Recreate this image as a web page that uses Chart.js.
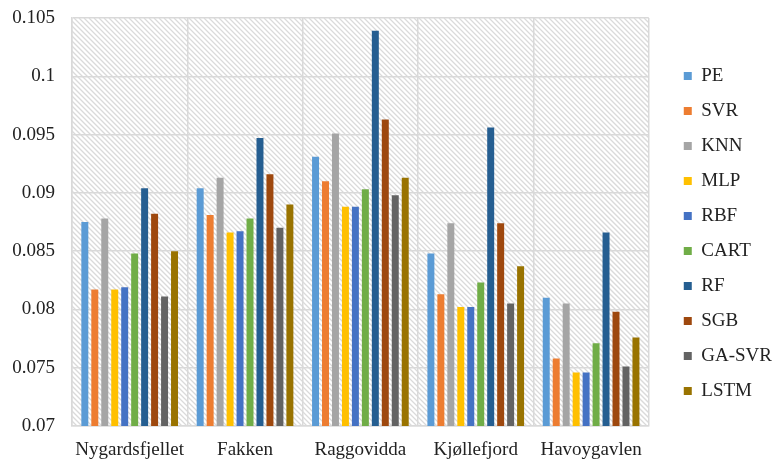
<!DOCTYPE html>
<html>
<head>
<meta charset="utf-8">
<script src="https://cdn.jsdelivr.net/npm/chart.js@4/dist/chart.umd.min.js"></script>
<style>
  html, body { margin: 0; padding: 0; background: #ffffff; }
  #wrap { width: 774px; height: 461px; }
</style>
</head>
<body>
<div id="wrap"><canvas id="c" width="774" height="461"></canvas></div>
<script>
// Wind farm sites
const sites = ['Nygardsfjellet', 'Fakken', 'Raggovidda', 'Kjøllefjord', 'Havoygavlen'];

// Error per model, one value per site
const PE     = [0.0875, 0.0904, 0.0931, 0.0848, 0.0810];
const SVR    = [0.0817, 0.0881, 0.0910, 0.0813, 0.0758];
const KNN    = [0.0878, 0.0913, 0.0951, 0.0874, 0.0805];
const MLP    = [0.0817, 0.0866, 0.0888, 0.0802, 0.0746];
const RBF    = [0.0819, 0.0867, 0.0888, 0.0802, 0.0746];
const CART   = [0.0848, 0.0878, 0.0903, 0.0823, 0.0771];
const RF     = [0.0904, 0.0947, 0.1039, 0.0956, 0.0866];
const SGB    = [0.0882, 0.0916, 0.0963, 0.0874, 0.0798];
const GA_SVR = [0.0811, 0.0870, 0.0898, 0.0805, 0.0751];
const LSTM   = [0.0850, 0.0890, 0.0913, 0.0837, 0.0776];

const modelNames = ['PE', 'SVR', 'KNN', 'MLP', 'RBF', 'CART', 'RF', 'SGB', 'GA-SVR', 'LSTM'];
const modelValues = [PE, SVR, KNN, MLP, RBF, CART, RF, SGB, GA_SVR, LSTM];
const modelColors = ['#5B9BD5', '#ED7D31', '#A5A5A5', '#FFC000', '#4472C4',
                     '#70AD47', '#255E91', '#9E480E', '#636363', '#997300'];

// Y axis ticks
const yTicks = [0.07, 0.075, 0.08, 0.085, 0.09, 0.095, 0.1, 0.105];
const yTickLabels = ['0.07', '0.075', '0.08', '0.085', '0.09', '0.095', '0.1', '0.105'];

const FONT = { family: "'Liberation Serif', 'Times New Roman', serif", size: 19 };
const GRID = '#d9d9d9';

// Diagonal hatch behind the plot area
const hatchPlugin = {
  id: 'hatch',
  beforeDraw(chart) {
    const { ctx, chartArea: a } = chart;
    ctx.save();
    ctx.fillStyle = '#ffffff';
    ctx.fillRect(0, 0, chart.width, chart.height);
    ctx.beginPath();
    ctx.rect(a.left, a.top, a.right - a.left, a.bottom - a.top);
    ctx.clip();
    ctx.strokeStyle = '#dadada';
    ctx.lineWidth = 1.3;
    const h = a.bottom - a.top;
    ctx.beginPath();
    for (let k = -h; k < a.right - a.left + 5; k += 5) {
      ctx.moveTo(a.left + k, a.top);
      ctx.lineTo(a.left + k + h, a.bottom);
    }
    ctx.stroke();
    ctx.restore();
  }
};

new Chart(document.getElementById('c'), {
  type: 'bar',
  data: {
    labels: sites,
    datasets: modelNames.map((name, i) => ({
      label: name,
      data: modelValues[i],
      backgroundColor: modelColors[i],
      borderWidth: 0,
      barPercentage: 0.7,
      categoryPercentage: 0.864
    }))
  },
  options: {
    responsive: false,
    animation: false,
    layout: { padding: { top: 8, left: 10, right: -8, bottom: 2 } },
    plugins: {
      legend: {
        position: 'right',
        align: 'center',
        labels: {
          font: FONT,
          color: '#222222',
          boxWidth: 8,
          boxHeight: 8,
          padding: 16
        }
      },
      tooltip: { enabled: false }
    },
    scales: {
      x: {
        grid: { color: GRID, lineWidth: 1.5, offset: true, drawTicks: false },
        border: { color: GRID, width: 1.5 },
        ticks: { font: FONT, color: '#222222', padding: 13, maxRotation: 0, minRotation: 0, autoSkip: false },
        afterFit(scale) { scale.height = 33; }
      },
      y: {
        min: 0.07,
        max: 0.105,
        afterBuildTicks(scale) { scale.ticks = yTicks.map(v => ({ value: v })); },
        grid: { color: GRID, lineWidth: 1.5, drawTicks: false },
        border: { color: GRID, width: 1.5 },
        ticks: {
          font: FONT,
          color: '#222222',
          padding: 17,
          callback(value) {
            const i = yTicks.findIndex(t => Math.abs(t - value) < 1e-9);
            return i >= 0 ? yTickLabels[i] : '';
          }
        },
        afterFit(scale) {
          scale.width = 62;
          scale.paddingTop = 18;
          scale.paddingBottom = 0;
        }
      },
      gap: {
        position: 'right',
        display: true,
        grid: { display: false },
        border: { display: false },
        ticks: { display: false },
        afterFit(scale) { scale.width = 19; }
      }
    }
  },
  plugins: [hatchPlugin]
});
</script>
</body>
</html>
